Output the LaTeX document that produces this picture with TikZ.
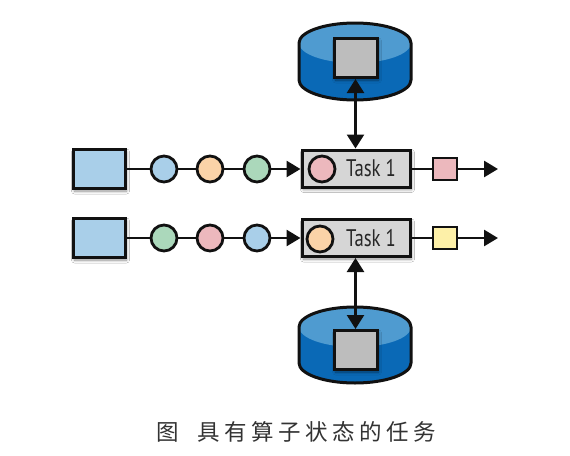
\documentclass[tikz,border=0pt]{standalone}
\usepackage{fontspec}
\setmainfont{PT Sans}
\newfontfamily\cjk[LetterSpace=20]{Noto Sans CJK SC}
\usetikzlibrary{arrows.meta,shadows.blur}
\definecolor{srcblue}{HTML}{A9CFE9}
\definecolor{evorange}{HTML}{FBD3A8}
\definecolor{evgreen}{HTML}{ABD8BB}
\definecolor{evpink}{HTML}{ECB8BD}
\definecolor{evyellow}{HTML}{FDF0A8}
\definecolor{taskgray}{HTML}{D6D6D6}
\definecolor{stgray}{HTML}{BDBDBD}
\definecolor{cylbody}{HTML}{0A69B6}
\definecolor{cyltop}{HTML}{4F9BD0}
\definecolor{ink}{HTML}{111111}
\tikzset{
  softshadow/.style={blur shadow={shadow xshift=1.5pt,shadow yshift=-2.5pt,shadow blur steps=6,shadow blur radius=3pt,shadow opacity=45}},
  srcbox/.style={draw=ink,line width=3pt,fill=srcblue,minimum width=52pt,minimum height=39pt,inner sep=0pt,softshadow},
  ev/.style={circle,draw=ink,line width=2.8pt,minimum size=26pt,inner sep=0pt},
  taskbox/.style={draw=ink,line width=3pt,fill=taskgray,minimum width=108pt,minimum height=37pt,inner sep=0pt,softshadow},
  outbox/.style={draw=ink,line width=2.8pt,minimum width=24pt,minimum height=22pt,inner sep=0pt},
  stbox/.style={draw=ink,line width=3pt,fill=stgray,minimum width=43pt,minimum height=39pt,inner sep=0pt,softshadow},
  tasklabel/.style={font=\fontsize{24}{24}\selectfont\addfontfeatures{FakeStretch=0.78},text=black!85,inner sep=0pt},
  flow/.style={draw=ink,line width=2.6pt},
  flowarrow/.style={flow,-{Triangle[length=14pt,width=16pt]}},
  both/.style={flow,{Triangle[length=14pt,width=17pt]}-{Triangle[length=14pt,width=17pt]}},
  cylline/.style={draw=ink,line width=3pt,line join=round}
}
\begin{document}
\begin{tikzpicture}[x=1pt,y=-1pt]
\useasboundingbox[fill=white] (0,0) rectangle (570,455);
% upper store
\path[fill=cylbody] (299,43) -- (299,80) arc[start angle=180,end angle=0,x radius=56,y radius=20] -- (411,43);
\path[fill=cyltop] (355,43) ellipse[x radius=56,y radius=20];
\path[cylline] (299,80) -- (299,43) arc[start angle=180,delta angle=180,x radius=56,y radius=20] -- (411,80) arc[start angle=0,delta angle=180,x radius=56,y radius=20];
\node[stbox] (st1) at (355.5,58) {};
% lower store
\path[fill=cylbody] (299,327) -- (299,363) arc[start angle=180,end angle=0,x radius=56,y radius=20] -- (411,327);
\path[fill=cyltop] (355,327) ellipse[x radius=56,y radius=20];
\path[cylline] (299,363) -- (299,327) arc[start angle=180,delta angle=180,x radius=56,y radius=20] -- (411,363) arc[start angle=0,delta angle=180,x radius=56,y radius=20];
\node[stbox] (st2) at (355.5,350) {};
% row 1
\node[srcbox] (s1) at (99,169) {};
\node[ev,fill=srcblue] (a1) at (164,169) {};
\node[ev,fill=evorange] (a2) at (210,169) {};
\node[ev,fill=evgreen] (a3) at (257,169) {};
\node[taskbox] (t1) at (356,168.5) {};
\node[ev,fill=evpink] (tc1) at (322,169) {};
\node[tasklabel] (tl1) at (371,168.5) {Task 1};
\node[outbox,fill=evpink] (o1) at (445,169) {};
\coordinate (e1) at (498,169);
% row 2
\node[srcbox] (s2) at (99,238) {};
\node[ev,fill=evgreen] (b1) at (164,238) {};
\node[ev,fill=evpink] (b2) at (210,238) {};
\node[ev,fill=srcblue] (b3) at (257,238) {};
\node[taskbox] (t2) at (356,238) {};
\node[ev,fill=evorange] (tc2) at (320,239) {};
\node[tasklabel] (tl2) at (371,238) {Task 1};
\node[outbox,fill=evyellow] (o2) at (445,238) {};
\coordinate (e2) at (498,238);
% connectors
\draw[flow] (s1) -- (a1);
\draw[flow] (a1) -- (a2);
\draw[flow] (a2) -- (a3);
\draw[flowarrow] (a3) -- (t1.west |- a3);
\draw[flow] (t1.east |- o1) -- (o1);
\draw[flowarrow] (o1) -- (e1);
\draw[flow] (s2) -- (b1);
\draw[flow] (b1) -- (b2);
\draw[flow] (b2) -- (b3);
\draw[flowarrow] (b3) -- (t2);
\draw[flow] (t2) -- (o2);
\draw[flowarrow] (o2) -- (e2);
\draw[both] (st1) -- (st1 |- t1.north);
\draw[both] (st2 |- t2.south) -- (st2);
% caption
\node[inner sep=0pt,text=black!80] (cap) at (296,432) {\cjk\fontsize{22.5}{22.5}\selectfont 图\hspace{18pt}具有算子状态的任务};
\end{tikzpicture}
\end{document}
